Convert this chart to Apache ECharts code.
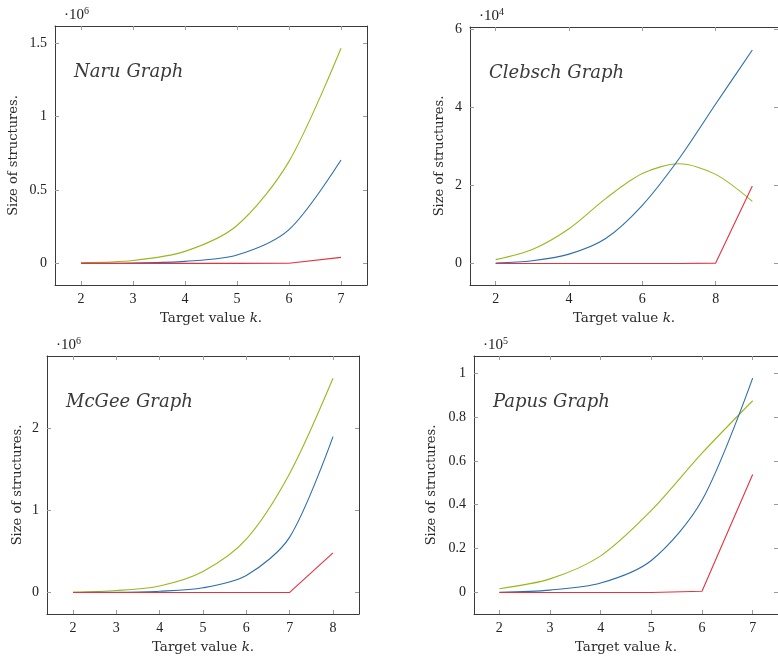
<!DOCTYPE html>
<html>
<head>
<meta charset="utf-8">
<script src="https://cdn.jsdelivr.net/npm/echarts@6/dist/echarts.min.js"></script>
<style>
  html, body { margin: 0; padding: 0; background: #fff; }
  #chart { width: 778px; height: 657px; }
</style>
</head>
<body>
<div id="chart"></div>
<script>
var chart = echarts.init(document.getElementById('chart'));

// target values k
var kNaru = [2, 3, 4, 5, 6, 7];
var kClebsch = [2, 3, 4, 5, 6, 7, 8, 9];
var kMcGee = [2, 3, 4, 5, 6, 7, 8];
var kPapus = [2, 3, 4, 5, 6, 7];

// size of structures
var naruGreen = [5000, 20000, 82000, 258000, 695000, 1465000];
var naruBlue = [0, 3000, 14000, 57000, 230000, 704000];
var naruRed = [0, 0, 0, 0, 1000, 41000];

var clebschGreen = [1000, 3600, 8900, 16600, 23000, 25500, 22800, 15900];
var clebschBlue = [100, 700, 2400, 6400, 14900, 26800, 40800, 54600];
var clebschRed = [0, 0, 0, 0, 0, 0, 100, 19800];

var mcgeeGreen = [4000, 24000, 80000, 256000, 650000, 1450000, 2610000];
var mcgeeBlue = [0, 3000, 16000, 57000, 207000, 675000, 1900000];
var mcgeeRed = [0, 0, 0, 0, 0, 1000, 484000];

var papusGreen = [1700, 6200, 16700, 37400, 63500, 87400];
var papusBlue = [100, 1100, 4300, 14600, 42000, 97700];
var papusRed = [0, 0, 0, 0, 600, 53800];

// tick labels
var xTicksNaru = [2, 3, 4, 5, 6, 7];
var xTicksClebsch = [2, 4, 6, 8];
var xTicksMcGee = [2, 3, 4, 5, 6, 7, 8];
var xTicksPapus = [2, 3, 4, 5, 6, 7];
var yTicksNaru = [0, 500000, 1000000, 1500000];
var yTicksClebsch = [0, 20000, 40000, 60000];
var yTicksMcGee = [0, 1000000, 2000000];
var yTicksPapus = [0, 20000, 40000, 60000, 80000, 100000];

var green = '#9bb71c';
var blue = '#2a6ead';
var red = '#e5323f';
var frame = '#3a3a3a';
var tickColor = '#9a9a9a';
var serif = 'Liberation Serif';
var wideSerif = 'DejaVu Serif';

var panels = [
    { title: 'Naru Graph', k: kNaru, lines: [naruGreen, naruBlue, naruRed],
      box: { left: 55, top: 26, width: 312, height: 259 }, yNameGap: 35,
      xMin: 1.5, xMax: 7.5, xTicks: xTicksNaru,
      yMin: -147000, yMax: 1617000, yTicks: yTicksNaru, exp: 6 },
    { title: 'Clebsch Graph', k: kClebsch, lines: [clebschGreen, clebschBlue, clebschRed],
      box: { left: 470, top: 27, width: 312, height: 258 }, yNameGap: 24,
      xMin: 1.3, xMax: 9.7, xTicks: xTicksClebsch,
      yMin: -5500, yMax: 60500, yTicks: yTicksClebsch, exp: 4 },
    { title: 'McGee Graph', k: kMcGee, lines: [mcgeeGreen, mcgeeBlue, mcgeeRed],
      box: { left: 47, top: 356, width: 312, height: 258 }, yNameGap: 23,
      xMin: 1.4, xMax: 8.6, xTicks: xTicksMcGee,
      yMin: -262000, yMax: 2882000, yTicks: yTicksMcGee, exp: 6 },
    { title: 'Papus Graph', k: kPapus, lines: [papusGreen, papusBlue, papusRed],
      box: { left: 474, top: 356, width: 311, height: 258 }, yNameGap: 36,
      xMin: 1.5, xMax: 7.5, xTicks: xTicksPapus,
      yMin: -9800, yMax: 107800, yTicks: yTicksPapus, exp: 5 }
];

var grids = [], xAxes = [], yAxes = [], series = [], titles = [];
var lineColors = [green, blue, red];

panels.forEach(function (p, i) {
    var scale = Math.pow(10, p.exp);
    grids.push({ left: p.box.left, top: p.box.top, width: p.box.width, height: p.box.height, containLabel: false });

    var xBase = {
        type: 'value', gridIndex: i, min: p.xMin, max: p.xMax,
        splitLine: { show: false },
        axisLine: { onZero: false, lineStyle: { color: frame, width: 1 } },
        axisTick: { inside: true, length: 4, customValues: p.xTicks, lineStyle: { color: tickColor } }
    };
    xAxes.push(Object.assign({}, xBase, {
        position: 'bottom',
        name: 'Target value {i|k}.', nameLocation: 'middle', nameGap: 26,
        nameTextStyle: { fontFamily: wideSerif, fontSize: 13.5, color: '#2a2a2a',
            rich: { i: { fontFamily: wideSerif, fontStyle: 'italic', fontSize: 13.5, color: '#2a2a2a' } } },
        axisLabel: { customValues: p.xTicks, margin: 7, fontFamily: serif, fontSize: 14, color: '#222' }
    }));
    xAxes.push(Object.assign({}, xBase, { position: 'top', axisLabel: { show: false } }));

    var yBase = {
        type: 'value', gridIndex: i, min: p.yMin, max: p.yMax,
        splitLine: { show: false },
        axisLine: { show: true, onZero: false, lineStyle: { color: frame, width: 1 } },
        axisTick: { show: true, inside: true, length: 4, customValues: p.yTicks, lineStyle: { color: tickColor } }
    };
    yAxes.push(Object.assign({}, yBase, {
        position: 'left',
        name: 'Size of structures.', nameLocation: 'middle', nameGap: p.yNameGap,
        nameTextStyle: { fontFamily: wideSerif, fontSize: 13, color: '#2a2a2a' },
        axisLabel: { customValues: p.yTicks, margin: 8, fontFamily: serif, fontSize: 14, color: '#222',
            formatter: function (v) { return String(Math.round(v / scale * 100) / 100); } }
    }));
    yAxes.push(Object.assign({}, yBase, { position: 'right', axisLabel: { show: false } }));

    p.lines.forEach(function (vals, j) {
        series.push({
            type: 'line', xAxisIndex: 2 * i, yAxisIndex: 2 * i,
            data: p.k.map(function (k, n) { return [k, vals[n]]; }),
            showSymbol: false, smooth: j < 2 ? 0.3 : false,
            lineStyle: { color: lineColors[j], width: 1.1 },
            itemStyle: { color: lineColors[j] },
            silent: true, animation: false
        });
    });

    titles.push({
        text: p.title, left: p.box.left + 14, top: p.box.top + 32,
        textStyle: { fontFamily: wideSerif, fontStyle: 'italic', fontWeight: 'normal', fontSize: 18, color: '#3a3a3a' }
    });
    titles.push({
        text: '·10{s|' + p.exp + '}', left: p.box.left + 4, top: p.box.top - 25,
        textStyle: { fontFamily: serif, fontWeight: 'normal', fontSize: 15, color: '#222',
            rich: { s: { fontFamily: serif, fontSize: 10, color: '#222', padding: [0, 0, 8, 0] } } }
    });
});

chart.setOption({
    animation: false,
    title: titles,
    grid: grids,
    xAxis: xAxes,
    yAxis: yAxes,
    series: series
});
</script>
</body>
</html>
